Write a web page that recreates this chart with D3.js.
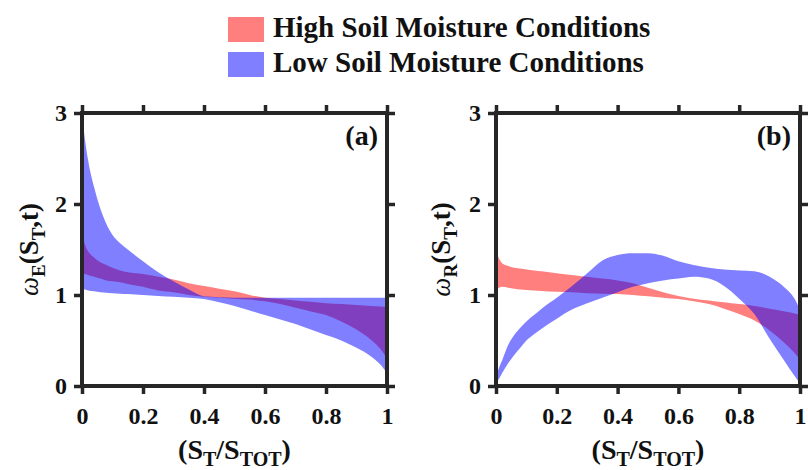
<!DOCTYPE html>
<html>
<head>
<meta charset="utf-8">
<script src="https://cdn.jsdelivr.net/npm/d3@7"></script>
<style>
  body { margin: 0; background: #fff; }
  svg { display: block; }
  text { font-family: "Liberation Serif", "Times New Roman", serif; font-weight: bold; fill: #111; }
</style>
</head>
<body>
<svg id="chart" width="808" height="470"></svg>
<script>
// ---------- DATA ----------
const xGrid = [0, 0.01, 0.02, 0.04, 0.06, 0.08, 0.1, 0.125, 0.15, 0.2, 0.25, 0.3, 0.35, 0.4, 0.45, 0.5, 0.55, 0.6, 0.65, 0.7, 0.75, 0.8, 0.85, 0.9, 0.95, 0.98, 1];

// Panel (a): omega_E
const aHighUpper = [1.68, 1.55, 1.48, 1.41, 1.36, 1.33, 1.30, 1.27, 1.25, 1.23, 1.20, 1.17, 1.13, 1.10, 1.07, 1.04, 1.00, 0.97, 0.955, 0.94, 0.925, 0.91, 0.90, 0.89, 0.88, 0.875, 0.87];
const aHighLower = [1.24, 1.23, 1.22, 1.20, 1.18, 1.16, 1.15, 1.14, 1.12, 1.09, 1.05, 1.03, 1.00, 0.98, 0.97, 0.96, 0.95, 0.93, 0.90, 0.86, 0.82, 0.78, 0.71, 0.62, 0.50, 0.40, 0.30];
const aLowUpper  = [3.00, 2.70, 2.48, 2.18, 1.95, 1.78, 1.66, 1.57, 1.50, 1.37, 1.25, 1.15, 1.06, 0.985, 0.975, 0.97, 0.97, 0.97, 0.97, 0.97, 0.97, 0.97, 0.97, 0.97, 0.97, 0.97, 0.97];
const aLowLower  = [1.07, 1.06, 1.05, 1.04, 1.03, 1.025, 1.02, 1.015, 1.01, 1.00, 0.99, 0.98, 0.97, 0.955, 0.92, 0.88, 0.83, 0.78, 0.73, 0.68, 0.62, 0.56, 0.50, 0.42, 0.32, 0.23, 0.14];

// Panel (b): omega_R
const bHighUpper = [1.49, 1.40, 1.35, 1.32, 1.30, 1.29, 1.28, 1.27, 1.26, 1.24, 1.22, 1.20, 1.18, 1.16, 1.13, 1.08, 1.03, 0.99, 0.96, 0.94, 0.92, 0.90, 0.88, 0.85, 0.82, 0.80, 0.78];
const bHighLower = [1.05, 1.08, 1.09, 1.08, 1.07, 1.06, 1.055, 1.05, 1.045, 1.035, 1.03, 1.02, 1.015, 1.01, 1.00, 0.985, 0.97, 0.955, 0.93, 0.90, 0.85, 0.79, 0.72, 0.61, 0.47, 0.37, 0.29];
const bLowUpper  = [0.10, 0.20, 0.28, 0.45, 0.56, 0.64, 0.71, 0.78, 0.85, 0.97, 1.10, 1.24, 1.38, 1.44, 1.46, 1.46, 1.43, 1.37, 1.33, 1.30, 1.28, 1.27, 1.26, 1.20, 1.08, 0.97, 0.84];
const bLowLower  = [0.03, 0.08, 0.14, 0.25, 0.34, 0.42, 0.50, 0.57, 0.63, 0.74, 0.84, 0.91, 0.97, 1.03, 1.09, 1.13, 1.16, 1.18, 1.20, 1.18, 1.10, 0.96, 0.79, 0.52, 0.27, 0.12, 0.03];

const xTicks = [0, 0.2, 0.4, 0.6, 0.8, 1];
const xTickLabels = ["0", "0.2", "0.4", "0.6", "0.8", "1"];
const yTicks = [0, 1, 2, 3];
const yTickLabels = ["0", "1", "2", "3"];
const legendLabels = ["High Soil Moisture Conditions", "Low Soil Moisture Conditions"];
const seriesColors = ["rgb(255,0,0)", "rgb(0,0,255)"];
const panelTags = ["(a)", "(b)"];
const yLabelSubs = ["E", "R"];

// ---------- DRAW ----------
const svg = d3.select("#chart");
svg.append("rect").attr("width", 808).attr("height", 470).attr("fill", "#fff");

const axisColor = "#262626";
const plotTop = 113, plotBottom = 386;

const panels = [
  { left: 82, right: 387, high: [aHighLower, aHighUpper], low: [aLowLower, aLowUpper], tag: panelTags[0], sub: yLabelSubs[0], labelX: 38 },
  { left: 496, right: 800, high: [bHighLower, bHighUpper], low: [bLowLower, bLowUpper], tag: panelTags[1], sub: yLabelSubs[1], labelX: 450 }
];

panels.forEach((p, pi) => {
  const x = d3.scaleLinear().domain([0, 1]).range([p.left, p.right]);
  const y = d3.scaleLinear().domain([0, 3]).range([plotBottom, plotTop]);
  const g = svg.append("g");

  const clipId = "clip" + pi;
  svg.append("clipPath").attr("id", clipId)
    .append("rect").attr("x", p.left).attr("y", plotTop).attr("width", p.right - p.left).attr("height", plotBottom - plotTop);

  const area = (lo, hi) => d3.area()
    .x((d, i) => x(xGrid[i]))
    .y0((d, i) => y(lo[i]))
    .y1((d, i) => y(hi[i]))
    .curve(d3.curveMonotoneX)(xGrid);

  const bands = g.append("g").attr("clip-path", `url(#${clipId})`);
  bands.append("path").attr("d", area(p.high[0], p.high[1]))
    .attr("fill", seriesColors[0]).attr("fill-opacity", 0.5);
  bands.append("path").attr("d", area(p.low[0], p.low[1]))
    .attr("fill", seriesColors[1]).attr("fill-opacity", 0.5);

  // axes with outward ticks on all four sides
  const tickSize = 8;
  const styleAxis = sel => {
    sel.select(".domain").remove();
    sel.selectAll(".tick line").attr("stroke", axisColor).attr("stroke-width", 3.5);
    sel.selectAll(".tick text").attr("fill", "#111")
      .style("font-family", '"Liberation Serif", "Times New Roman", serif')
      .style("font-weight", "bold").style("font-size", "24px");
  };
  g.append("g").attr("transform", `translate(0,${plotBottom})`)
    .call(d3.axisBottom(x).tickValues(xTicks).tickFormat((d, i) => xTickLabels[i]).tickSize(tickSize).tickPadding(13))
    .call(styleAxis);
  g.append("g").attr("transform", `translate(0,${plotTop})`)
    .call(d3.axisTop(x).tickValues(xTicks).tickFormat("").tickSize(tickSize))
    .call(styleAxis);
  g.append("g").attr("transform", `translate(${p.left},0)`)
    .call(d3.axisLeft(y).tickValues(yTicks).tickFormat((d, i) => yTickLabels[i]).tickSize(tickSize).tickPadding(7))
    .call(styleAxis);
  g.append("g").attr("transform", `translate(${p.right},0)`)
    .call(d3.axisRight(y).tickValues(yTicks).tickFormat("").tickSize(tickSize))
    .call(styleAxis);

  g.append("rect").attr("x", p.left).attr("y", plotTop)
    .attr("width", p.right - p.left).attr("height", plotBottom - plotTop)
    .attr("fill", "none").attr("stroke", axisColor).attr("stroke-width", 4);

  // panel tag
  g.append("text").attr("x", p.right - 9).attr("y", 145)
    .attr("text-anchor", "end").style("font-size", "28px").text(p.tag);

  // y label
  const yl = g.append("text")
    .attr("transform", `translate(${p.labelX},${(plotTop + plotBottom) / 2}) rotate(-90)`)
    .attr("text-anchor", "middle").style("font-size", "27px");
  yl.append("tspan").style("font-style", "italic").style("font-weight", "normal").text("ω");
  yl.append("tspan").attr("dy", 7).style("font-size", "19px").text(p.sub);
  yl.append("tspan").attr("dy", -7).text("(S");
  yl.append("tspan").attr("dy", 7).style("font-size", "19px").text("T");
  yl.append("tspan").attr("dy", -7).text(",t)");

  // x label
  const xl = g.append("text").attr("x", (p.left + p.right) / 2).attr("y", 459)
    .attr("text-anchor", "middle").style("font-size", "28px");
  xl.append("tspan").text("(S");
  xl.append("tspan").attr("dy", 7).style("font-size", "20px").text("T");
  xl.append("tspan").attr("dy", -7).text("/S");
  xl.append("tspan").attr("dy", 7).style("font-size", "20px").text("TOT");
  xl.append("tspan").attr("dy", -7).text(")");
});

// legend
const legend = svg.append("g");
legendLabels.forEach((lab, i) => {
  const yy = [17, 52][i];
  legend.append("rect").attr("x", 228).attr("y", yy).attr("width", 36).attr("height", 25)
    .attr("fill", seriesColors[i]).attr("fill-opacity", 0.5);
  legend.append("text").attr("x", 273).attr("y", yy + 20)
    .style("font-size", "29px").text(lab);
});
</script>
</body>
</html>
